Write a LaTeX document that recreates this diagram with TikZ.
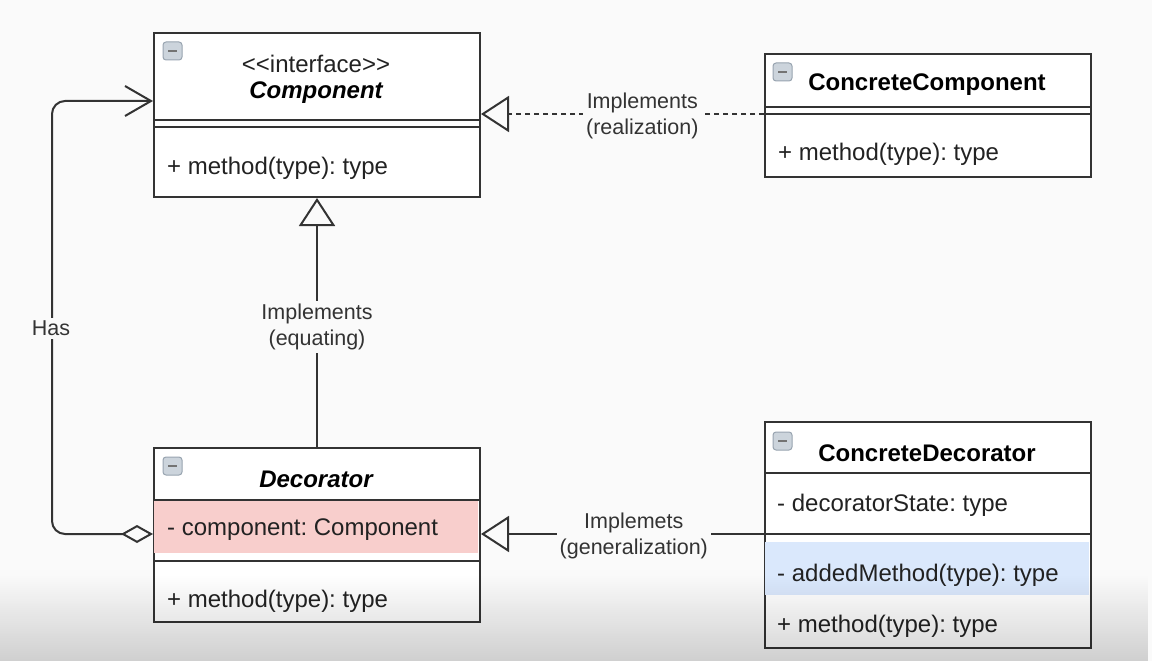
\documentclass[tikz,border=0pt]{standalone}
\usepackage{fontspec}
\setmainfont{Liberation Sans}
\frenchspacing
\usetikzlibrary{arrows.meta,fadings}
\definecolor{bgcol}{HTML}{FAFAFA}
\definecolor{linecol}{HTML}{333333}
\definecolor{txtcol}{HTML}{222222}
\definecolor{attrpink}{HTML}{F8CECC}
\definecolor{methblue}{HTML}{DAE8FC}
\definecolor{iconfill}{HTML}{CCD4DC}
\definecolor{icondraw}{HTML}{98A4B0}
\begin{document}
\begin{tikzpicture}[x=1pt,y=1pt]
\tikzstyle{every node}+=[inner sep=0pt, text=txtcol]
\tikzstyle{umlbox}=[draw=linecol, line width=2pt, fill=white, anchor=north west, minimum width=326pt]
\tikzstyle{divider}=[draw=linecol, line width=2pt]
\tikzstyle{member}=[anchor=west, yshift=-3pt, font=\fontsize{24}{28}\selectfont]
\tikzstyle{classname}=[yshift=-3pt, font=\fontsize{24}{28}\selectfont\bfseries, text=black]
\tikzstyle{lbl}=[fill=bgcol, align=center, inner sep=3pt, font=\fontsize{21.5}{26}\selectfont, text=black!80]
\tikzstyle{icon}=[draw=icondraw, fill=iconfill, line width=1pt, rounded corners=3pt]
\tikzstyle{iconbar}=[draw=black!55, line width=2pt]
\tikzstyle{realize}=[draw=linecol, line width=2pt, dash pattern=on 5pt off 4pt, -{Triangle[open, length=28pt, width=36pt]}]
\tikzstyle{inherit}=[draw=linecol, line width=2pt, -{Triangle[open, length=28pt, width=36pt]}]
\tikzstyle{has}=[draw=linecol, line width=2pt, {Diamond[open, length=32pt, width=18pt]}-{Straight Barb[length=26pt, width=30pt]}]
% background
\fill[bgcol] (0,0) rectangle (1152,-661);
\useasboundingbox (0,0) rectangle (1152,-661);
% Component
\node[umlbox, minimum height=164pt] (comp) at (153,-32) {};
\draw[icon] (163,-42) rectangle (182,-60);
\draw[iconbar] (168,-51) -- (177,-51);
\node[yshift=-2pt, font=\fontsize{24}{28}\selectfont] (comptag) at (316,-62) {<\kern0pt<interface>\kern0pt>};
\node[classname, font=\fontsize{24}{28}\selectfont\bfseries\itshape] (compname) at (316,-90) {Component};
\draw[divider] (153,-120) -- (479,-120);
\draw[divider] (153,-127) -- (479,-127);
\node[member] (compop) at (167,-165) {+ method(type): type};
% ConcreteComponent
\node[umlbox, minimum height=123pt] (ccomp) at (764,-53) {};
\draw[icon] (773,-63) rectangle (792,-81);
\draw[iconbar] (778,-72) -- (787,-72);
\node[classname] (ccompname) at (927,-82) {ConcreteComponent};
\draw[divider] (764,-107) -- (1090,-107);
\draw[divider] (764,-114) -- (1090,-114);
\node[member] (ccompop) at (778,-151) {+ method(type): type};
% Decorator
\node[umlbox, minimum height=174pt] (dec) at (153,-447) {};
\draw[icon] (163,-457) rectangle (182,-475);
\draw[iconbar] (168,-466) -- (177,-466);
\node[classname, font=\fontsize{24}{28}\selectfont\bfseries\itshape] (decname) at (316,-476) {Decorator};
\fill[attrpink] (154,-500) rectangle (478,-553);
\draw[divider] (153,-500) -- (479,-500);
\node[member] (decattr) at (167,-527) {- component: Component};
\draw[divider] (153,-561) -- (479,-561);
\node[member] (decop) at (167,-598) {+ method(type): type};
% ConcreteDecorator
\node[umlbox, minimum height=226pt] (cdec) at (764,-421) {};
\draw[icon] (773,-432) rectangle (792,-450);
\draw[iconbar] (778,-441) -- (787,-441);
\node[classname] (cdecname) at (927,-450) {ConcreteDecorator};
\draw[divider] (764,-473) -- (1090,-473);
\node[member] (cdecattr) at (777,-502) {- decoratorState: type};
\draw[divider] (764,-534) -- (1090,-534);
\fill[methblue] (765,-542) rectangle (1089,-595);
\node[member] (cdecadd) at (777,-572) {- addedMethod(type): type};
\node[member] (cdecop) at (777,-623) {+ method(type): type};
% connectors
\draw[realize] (ccomp.west |- 0,-114) -- node[lbl, pos=0.43, yshift=-2pt] (reallbl) {Implements\\(realization)} (comp.east |- 0,-114);
\draw[inherit] (dec.north) -- node[lbl, pos=0.49, yshift=-2pt] (equlbl) {Implements\\(equating)} (comp.south);
\draw[inherit] (cdec.west |- 0,-534) -- node[lbl, pos=0.46, yshift=-2pt] (genlbl) {Implemets\\(generalization)} (dec.east |- 0,-534);
\coordinate (hascorner) at (52,-101);
\draw[has] (dec.west |- 0,-534) [rounded corners=13pt] -| (hascorner) -- (comp.west |- hascorner);
\node[lbl] (haslbl) at (51,-328) {Has};
% bottom shade of the screen
\fill[black, opacity=0.17, path fading=north] (0,-575) rectangle (1152,-661);
\end{tikzpicture}
\end{document}
